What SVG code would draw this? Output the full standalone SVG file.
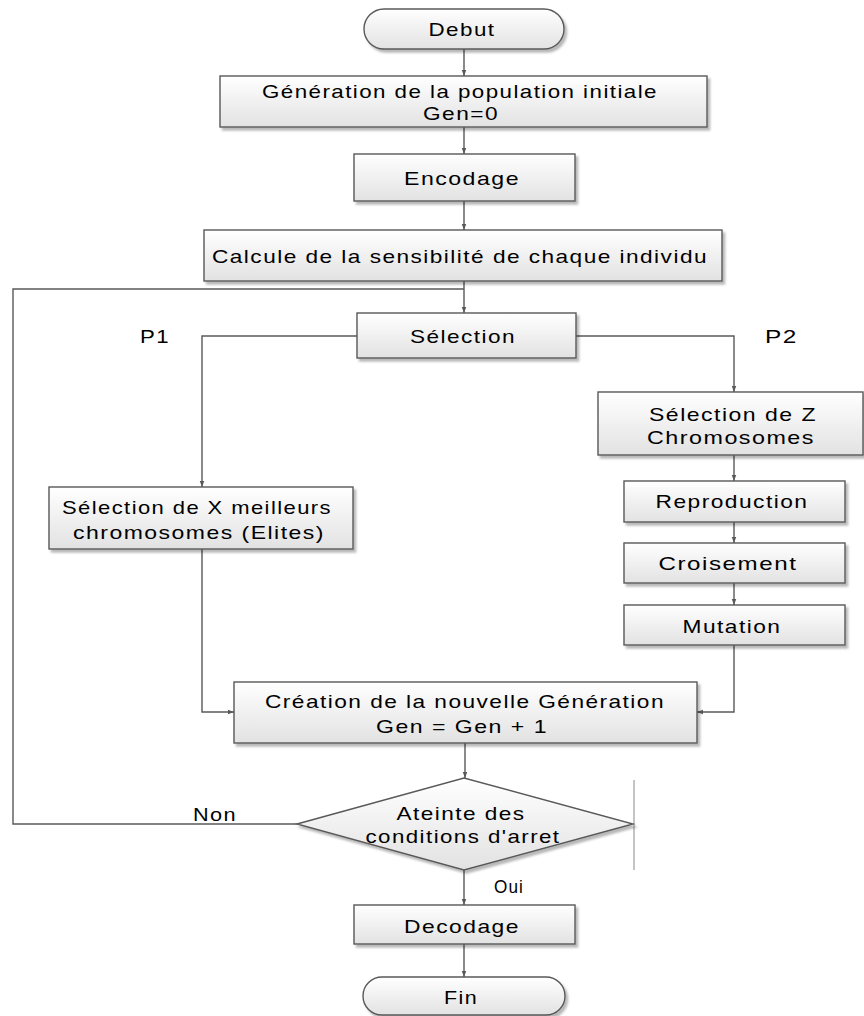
<svg xmlns="http://www.w3.org/2000/svg" width="864" height="1016" viewBox="0 0 864 1016">
<defs>
<linearGradient id="g" x1="0" y1="0" x2="0" y2="1">
<stop offset="0" stop-color="#ffffff"/>
<stop offset="1" stop-color="#e2e2e2"/>
</linearGradient>
<filter id="sh" x="-5%" y="-10%" width="110%" height="130%">
<feDropShadow dx="2.5" dy="3" stdDeviation="1.2" flood-color="#000" flood-opacity="0.28"/>
</filter>
<marker id="ar" viewBox="0 0 8 8" refX="8" refY="4" markerWidth="6" markerHeight="6" markerUnits="userSpaceOnUse" orient="auto">
<path d="M0,1 L8,4 L0,7 z" fill="#595959"/>
</marker>
<style>
.n{fill:url(#g);stroke:#595959;stroke-width:1.4;filter:url(#sh)}
.t{font-family:"Liberation Sans",Arial,sans-serif;font-size:18.5px;letter-spacing:1.2px;fill:#000;text-anchor:middle}
.l{font-family:"Liberation Sans",Arial,sans-serif;font-size:18.5px;letter-spacing:1.2px;fill:#000}
.c{fill:none;stroke:#595959;stroke-width:1.4}
.a{marker-end:url(#ar)}
</style>
</defs>
<g id="connectors">
<line class="c a" x1="464" y1="49" x2="464" y2="76"/>
<line class="c a" x1="464" y1="127" x2="464" y2="154"/>
<line class="c a" x1="464" y1="201" x2="464" y2="230"/>
<line class="c a" x1="464" y1="281" x2="464" y2="313"/>
<polyline class="c" points="297,824 13,824 13,289 464,289"/>
<polyline class="c a" points="357,336 202,336 202,487"/>
<polyline class="c a" points="576,336 734,336 734,392"/>
<line class="c a" x1="734" y1="455" x2="734" y2="481"/>
<line class="c a" x1="734" y1="522" x2="734" y2="543"/>
<line class="c a" x1="734" y1="583" x2="734" y2="605"/>
<polyline class="c a" points="734,645 734,712 697,712"/>
<polyline class="c a" points="202,549 202,712 234,712"/>
<line class="c a" x1="465" y1="743" x2="465" y2="778"/>
<line class="c a" x1="464" y1="870" x2="464" y2="905"/>
<line class="c a" x1="464" y1="944" x2="464" y2="977"/>
<line x1="634" y1="780" x2="634" y2="870" stroke="#8a8a8a" stroke-width="1"/>
<text class="l" x="193" y="821" textLength="44" lengthAdjust="spacingAndGlyphs">Non</text>
<text class="l" x="494" y="893" textLength="30" lengthAdjust="spacingAndGlyphs">Oui</text>
<text class="l" x="140" y="343" textLength="30" lengthAdjust="spacingAndGlyphs">P1</text>
<text class="l" x="765" y="343" textLength="33" lengthAdjust="spacingAndGlyphs">P2</text>
</g>
<g id="debut">
<rect class="n" x="364" y="9" width="200" height="40" rx="20" ry="20"/>
<text class="t" x="462" y="36" textLength="67" lengthAdjust="spacingAndGlyphs">Debut</text>
</g>
<g id="generation">
<rect class="n" x="220" y="76" width="487" height="51"/>
<text class="t" x="460" y="98" textLength="396" lengthAdjust="spacingAndGlyphs">Génération de la population initiale</text>
<text class="t" x="461" y="120" textLength="76" lengthAdjust="spacingAndGlyphs">Gen=0</text>
</g>
<g id="encodage">
<rect class="n" x="354" y="154" width="221" height="47"/>
<text class="t" x="462" y="185" textLength="116" lengthAdjust="spacingAndGlyphs">Encodage</text>
</g>
<g id="calcule">
<rect class="n" x="204" y="230" width="518" height="51"/>
<text class="t" x="460" y="263" textLength="496" lengthAdjust="spacingAndGlyphs">Calcule de la sensibilité de chaque individu</text>
</g>
<g id="selection">
<rect class="n" x="357" y="313" width="219" height="45"/>
<text class="t" x="463" y="343" textLength="106" lengthAdjust="spacingAndGlyphs">Sélection</text>
</g>
<g id="selx">
<rect class="n" x="49" y="487" width="304" height="62"/>
<text class="t" x="197" y="514" textLength="270" lengthAdjust="spacingAndGlyphs">Sélection de X meilleurs</text>
<text class="t" x="199" y="539" textLength="252" lengthAdjust="spacingAndGlyphs">chromosomes (Elites)</text>
</g>
<g id="selz">
<rect class="n" x="598" y="392" width="265" height="63"/>
<text class="t" x="733" y="421" textLength="168" lengthAdjust="spacingAndGlyphs">Sélection de Z</text>
<text class="t" x="731" y="444" textLength="168" lengthAdjust="spacingAndGlyphs">Chromosomes</text>
</g>
<g id="reproduction">
<rect class="n" x="624" y="481" width="221" height="41"/>
<text class="t" x="732" y="508" textLength="153" lengthAdjust="spacingAndGlyphs">Reproduction</text>
</g>
<g id="croisement">
<rect class="n" x="624" y="543" width="221" height="40"/>
<text class="t" x="728" y="570" textLength="139" lengthAdjust="spacingAndGlyphs">Croisement</text>
</g>
<g id="mutation">
<rect class="n" x="624" y="605" width="221" height="40"/>
<text class="t" x="732" y="633" textLength="99" lengthAdjust="spacingAndGlyphs">Mutation</text>
</g>
<g id="creation">
<rect class="n" x="234" y="682" width="463" height="61"/>
<text class="t" x="465" y="708" textLength="400" lengthAdjust="spacingAndGlyphs">Création de la nouvelle Génération</text>
<text class="t" x="462" y="733" textLength="172" lengthAdjust="spacingAndGlyphs">Gen = Gen + 1</text>
</g>
<g id="condition">
<polygon class="n" points="297,824 464,778 633,824 464,870"/>
<text class="t" x="461" y="820" textLength="129" lengthAdjust="spacingAndGlyphs">Ateinte des</text>
<text class="t" x="463" y="843" textLength="195" lengthAdjust="spacingAndGlyphs">conditions d'arret</text>
</g>
<g id="decodage">
<rect class="n" x="354" y="905" width="221" height="39"/>
<text class="t" x="462" y="933" textLength="116" lengthAdjust="spacingAndGlyphs">Decodage</text>
</g>
<g id="fin">
<rect class="n" x="363" y="977" width="202" height="38" rx="19" ry="19"/>
<text class="t" x="461" y="1004" textLength="34" lengthAdjust="spacingAndGlyphs">Fin</text>
</g>
</svg>
